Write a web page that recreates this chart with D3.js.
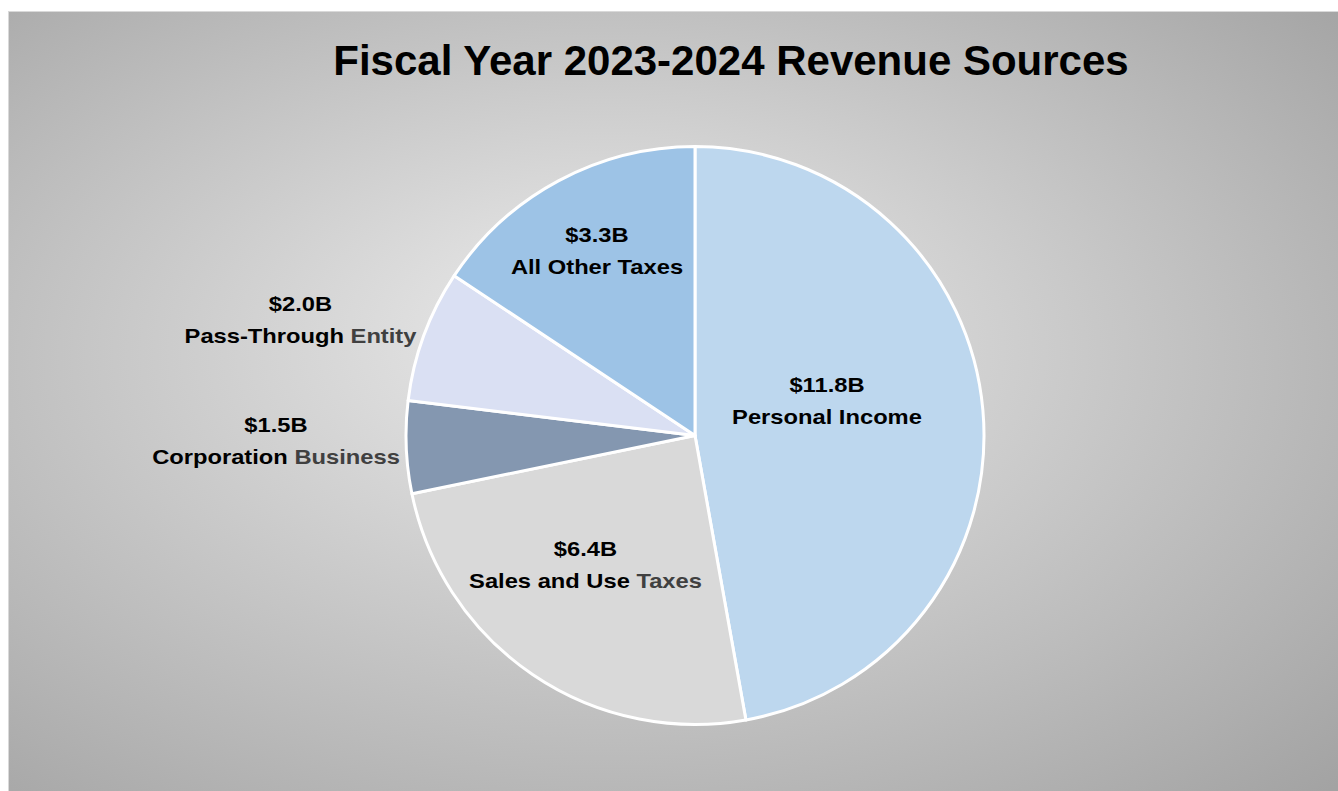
<!DOCTYPE html>
<html>
<head>
<meta charset="utf-8">
<script src="https://cdn.jsdelivr.net/npm/d3@7"></script>
<style>
  html, body { margin: 0; padding: 0; background: #ffffff; }
  svg { display: block; }
  text { font-family: "Liberation Sans", Arial, sans-serif; font-weight: bold; }
</style>
</head>
<body>
<svg id="chart" width="1338" height="791"></svg>
<script>
// ---- Data ----
const chartTitle = "Fiscal Year 2023-2024 Revenue Sources";
const categories = ["Personal Income", "Sales and Use", "Corporation", "Pass-Through", "All Other Taxes"];
const categorySuffix = ["", "Taxes", "Business", "Entity", ""];
// slice sizes in $B
const sliceValues = [11.8, 6.15, 1.29, 1.85, 3.92];
// value labels as printed on the chart
const valueLabels = ["$11.8B", "$6.4B", "$1.5B", "$2.0B", "$3.3B"];
const sliceColors = ["#bdd7ee", "#d9d9d9", "#8497b0", "#dae0f3", "#9dc3e6"];

// ---- Layout ----
const W = 1338, H = 791;
const cx = 695, cy = 435.5, R = 289;
// label anchors (first-line baseline) relative to pie centre
const labelOffsets = [[132, -44], [-109.5, 120.5], [-419, -3.5], [-394.5, -124.5], [-98, -193.5]];
const lineGap = 32.5;
const labelStretch = 1.13;

const svg = d3.select("#chart");
const defs = svg.append("defs");
const grad = defs.append("radialGradient")
  .attr("id", "bg")
  .attr("cx", 0.45).attr("cy", 0.48).attr("r", 0.75)
  .attr("fx", 0.45).attr("fy", 0.40);
grad.append("stop").attr("offset", "0%").attr("stop-color", "#ececec");
grad.append("stop").attr("offset", "100%").attr("stop-color", "#a3a3a3");

svg.append("rect")
  .attr("x", 8.5).attr("y", 11.5)
  .attr("width", W - 8).attr("height", H - 11)
  .attr("fill", "url(#bg)")
  .attr("stroke", "#d9d9d9").attr("stroke-width", 1);

svg.append("text")
  .attr("x", 731).attr("y", 75)
  .attr("text-anchor", "middle")
  .attr("font-size", 42)
  .attr("fill", "#000000")
  .text(chartTitle);

const data = categories.map((c, i) => ({
  name: c, suffix: categorySuffix[i], value: sliceValues[i],
  label: valueLabels[i], color: sliceColors[i], off: labelOffsets[i]
}));

const pie = d3.pie().sort(null).value(d => d.value);
const arc = d3.arc().innerRadius(0).outerRadius(R);

const g = svg.append("g").attr("transform", `translate(${cx},${cy})`);
g.selectAll("path.slice")
  .data(pie(data))
  .join("path")
  .attr("class", "slice")
  .attr("d", arc)
  .attr("fill", d => d.data.color)
  .attr("stroke", "#ffffff")
  .attr("stroke-width", 3)
  .attr("stroke-linejoin", "round");

const labels = g.selectAll("g.lab")
  .data(pie(data))
  .join("g")
  .attr("class", "lab")
  .attr("transform", d => `translate(${d.data.off[0]},${d.data.off[1]}) scale(${labelStretch},1)`);

labels.append("text")
  .attr("text-anchor", "middle")
  .attr("font-size", 21)
  .attr("fill", "#000000")
  .text(d => d.data.label);

const l2 = labels.append("text")
  .attr("text-anchor", "middle")
  .attr("y", lineGap)
  .attr("font-size", 21)
  .attr("fill", "#000000");
l2.append("tspan").text(d => d.data.name);
l2.filter(d => d.data.suffix).append("tspan")
  .attr("fill", "#404040")
  .text(d => " " + d.data.suffix);
</script>
</body>
</html>
